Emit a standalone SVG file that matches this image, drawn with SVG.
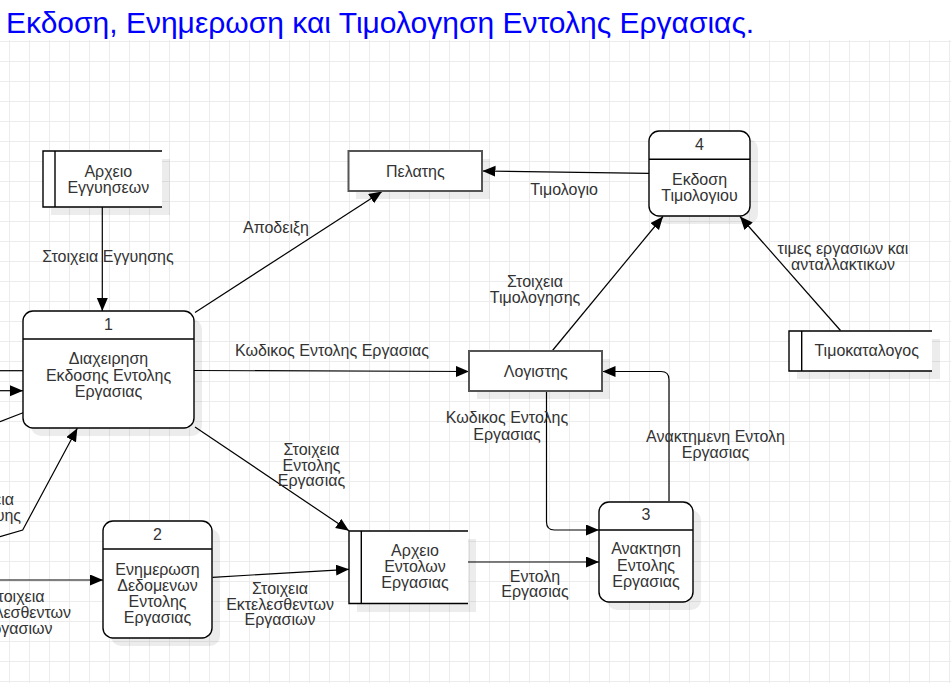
<svg xmlns="http://www.w3.org/2000/svg" width="951" height="683" viewBox="0 0 951 683">
<style>
text{font-family:"Liberation Sans",Arial,sans-serif;font-size:16px;fill:#333;text-anchor:middle}
.title{font-size:30px;fill:#0000ff;text-anchor:start}
.end{text-anchor:end}
.proc{fill:#fff;stroke:#000;stroke-width:1.4}
.shadow{fill:#000;fill-opacity:0.075;stroke:none}
.ent{fill:#fff;stroke:#555;stroke-width:2}
.ds{fill:#fff;stroke:none}
.dsl{fill:none;stroke:#000;stroke-width:1.4}
.c{fill:none;stroke:#000;stroke-width:1.2}
.a{marker-end:url(#arr)}
</style>
<defs>
<pattern id="grid" patternUnits="userSpaceOnUse" x="9" y="1" width="20" height="20">
<path d="M0.5 0V20M0 0.5H20" fill="none" stroke="#ececec" stroke-width="1"/>
</pattern>
<marker id="arr" markerUnits="userSpaceOnUse" markerWidth="14" markerHeight="12" refX="13" refY="5.5" orient="auto">
<path d="M0,0 L13,5.5 L0,11 z" fill="#000"/>
</marker>
</defs>
<rect width="951" height="683" fill="#fff"/>
<rect y="40" width="951" height="643" fill="url(#grid)"/>
<g id="title"><text class="title" x="6" y="33">Εκδοση, Ενημερωση και Τιμολογηση Εντολης Εργασιας.</text></g>

<g id="connectors">
<path class="c a" d="M102.3 207V311"/>
<text x="108" y="262">Στοιχεια Εγγυησης</text>
<path class="c a" d="M195 312.5L382 191.5"/>
<text x="276" y="233">Αποδειξη</text>
<path class="c a" d="M649 173.3L482.5 171"/>
<text x="564" y="195">Τιμολογιο</text>
<path class="c a" d="M194 370.5L469 371.5"/>
<text x="332" y="356">Κωδικος Εντολης Εργασιας</text>
<path class="c a" d="M552.5 350.5L663 216.5"/>
<text x="535" y="286.5">Στοιχεια</text>
<text x="535" y="302.5">Τιμολογησης</text>
<path class="c a" d="M840.5 330.5L740 216.5"/>
<text x="843" y="254">τιμες εργασιων και</text>
<text x="843" y="269.5">ανταλλακτικων</text>
<path class="c a" d="M546.5 391V522Q546.5 530 554.5 530H599"/>
<text x="507" y="423">Κωδικος Εντολης</text>
<text x="507" y="439.5">Εργασιας</text>
<path class="c a" d="M669 501V379.5Q669 371.5 661 371.5H602.5"/>
<text x="715.5" y="441.5">Ανακτημενη Εντολη</text>
<text x="715.5" y="457.5">Εργασιας</text>
<path class="c a" d="M468 562H599"/>
<text x="535" y="581.5">Εντολη</text>
<text x="535" y="597">Εργασιας</text>
<path class="c a" d="M195 427L349 530.7"/>
<text x="311.5" y="455">Στοιχεια</text>
<text x="311.5" y="470.5">Εντολης</text>
<text x="311.5" y="486">Εργασιας</text>
<path class="c a" d="M212.5 577.3L349 569.3"/>
<text x="280" y="593.5">Στοιχεια</text>
<text x="280" y="609.5">Εκτελεσθεντων</text>
<text x="280" y="625">Εργασιων</text>
<path class="c" d="M0 370.7H23"/>
<path class="c a" d="M0 390.7H23"/>
<path class="c" d="M23 412.7L0 421.7"/>
<path class="c a" d="M0 536.7L22.7 530L77.3 428.3"/>
<text class="end" x="14" y="505">Στοιχεια</text>
<text class="end" x="21" y="521">Επισκευης</text>
<path class="c a" d="M0 580H103"/>
<text class="end" x="44.5" y="602">Στοιχεια</text>
<text class="end" x="71" y="618">Εκτελεσθεντων</text>
<text class="end" x="52.5" y="633.5">Εργασιων</text>
</g>

<g id="process1">
<rect class="shadow" x="31" y="319" width="171" height="117" rx="10"/>
<rect class="proc" x="23" y="311" width="171" height="117" rx="10"/>
<path class="proc" d="M23 339H194"/>
<text x="108.5" y="329.5">1</text>
<text x="108.5" y="364">Διαχειρηση</text>
<text x="108.5" y="380.5">Εκδοσης Εντολης</text>
<text x="108.5" y="396.5">Εργασιας</text>
</g>

<g id="process2">
<rect class="shadow" x="111" y="529" width="109" height="117" rx="10"/>
<rect class="proc" x="103" y="521" width="109" height="117" rx="10"/>
<path class="proc" d="M103 549H212"/>
<text x="157.5" y="540">2</text>
<text x="157.5" y="575">Ενημερωση</text>
<text x="157.5" y="591">Δεδομενων</text>
<text x="157.5" y="607">Εντολης</text>
<text x="157.5" y="623">Εργασιας</text>
</g>

<g id="process3">
<rect class="shadow" x="607" y="510" width="94" height="100" rx="10"/>
<rect class="proc" x="599" y="502" width="94" height="100" rx="10"/>
<path class="proc" d="M599 530H693"/>
<text x="646" y="520">3</text>
<text x="646" y="554">Ανακτηση</text>
<text x="646" y="570.5">Εντολης</text>
<text x="646" y="586.5">Εργασιας</text>
</g>

<g id="process4">
<rect class="shadow" x="657" y="139" width="101" height="85" rx="10"/>
<rect class="proc" x="649" y="131" width="101" height="85" rx="10"/>
<path class="proc" d="M649 159.3H750"/>
<text x="699.5" y="149.5">4</text>
<text x="699.5" y="184.5">Εκδοση</text>
<text x="699.5" y="200.5">Τιμολογιου</text>
</g>

<g id="pelatis">
<rect class="shadow" x="356" y="159" width="134" height="40"/>
<rect class="ent" x="348.5" y="151" width="133.5" height="40"/>
<text x="415.3" y="176.5">Πελατης</text>
</g>

<g id="logistis">
<rect class="shadow" x="477" y="359" width="133" height="40"/>
<rect class="ent" x="469" y="351" width="133" height="40"/>
<text x="535.7" y="376.5">Λογιστης</text>
</g>

<g id="archeio-engyiseon">
<rect class="shadow" x="51" y="159" width="119" height="56"/>
<rect class="ds" x="43" y="151" width="119" height="56"/>
<path class="dsl" d="M162 151H43V207H162M55 151V207"/>
<text x="108.3" y="176.5">Αρχειο</text>
<text x="108.3" y="192.5">Εγγυησεων</text>
</g>

<g id="archeio-entolon">
<rect class="shadow" x="357" y="539" width="119" height="73"/>
<rect class="ds" x="349" y="531" width="119" height="73"/>
<path class="dsl" d="M468 531H349V603.5H468M361.3 531V603.5"/>
<text x="415" y="556">Αρχειο</text>
<text x="415" y="572">Εντολων</text>
<text x="415" y="588">Εργασιας</text>
</g>

<g id="timokatalogos">
<rect class="shadow" x="797" y="339" width="143" height="40"/>
<rect class="ds" x="789" y="331" width="143" height="40"/>
<path class="dsl" d="M932 331H789V371H932M801.7 331V371"/>
<text x="866.7" y="355.5">Τιμοκαταλογος</text>
</g>
</svg>
